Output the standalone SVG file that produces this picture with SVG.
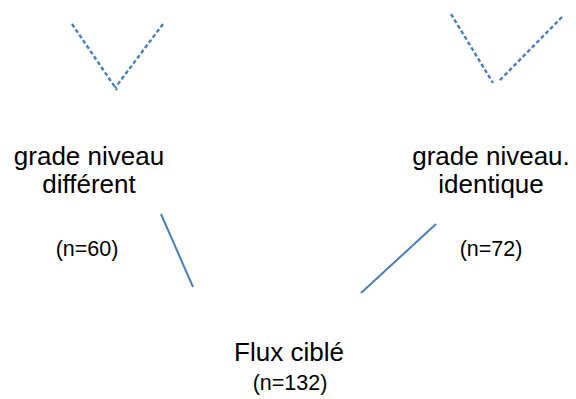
<svg xmlns="http://www.w3.org/2000/svg" width="576" height="399" viewBox="0 0 576 399">
<style>
.bg{fill:#ffffff}
.dash{stroke:#4a7ebb;stroke-width:2.4;stroke-dasharray:4 2.5;fill:none}
.solid{stroke:#4a7ebb;stroke-width:2;fill:none}
.lbl{font-family:"Liberation Sans",Arial,sans-serif;font-size:26px;fill:#000;text-anchor:middle}
.cnt{font-family:"Liberation Sans",Arial,sans-serif;font-size:21.5px;fill:#000;text-anchor:middle}
</style>
<rect class="bg" x="0" y="0" width="576" height="399"/>
<g id="connectors">
<line class="dash" x1="72" y1="24" x2="117" y2="90"/>
<line class="dash" x1="163" y1="24" x2="115" y2="88"/>
<line class="dash" x1="451" y1="14" x2="493" y2="83"/>
<line class="dash" x1="562" y1="17" x2="499" y2="81"/>
<line class="solid" x1="161" y1="214" x2="193" y2="287"/>
<line class="solid" x1="436" y1="224" x2="361" y2="293"/>
</g>
<g id="node-different">
<text class="lbl" x="89" y="165">grade niveau</text>
<text class="lbl" x="89" y="193">différent</text>
<text class="cnt" x="87" y="256">(n=60)</text>
</g>
<g id="node-identique">
<text class="lbl" x="491" y="165">grade niveau.</text>
<text class="lbl" x="491" y="193">identique</text>
<text class="cnt" x="491" y="256">(n=72)</text>
</g>
<g id="node-flux">
<text class="lbl" x="289" y="361">Flux ciblé</text>
<text class="cnt" x="290" y="390">(n=132)</text>
</g>
</svg>
